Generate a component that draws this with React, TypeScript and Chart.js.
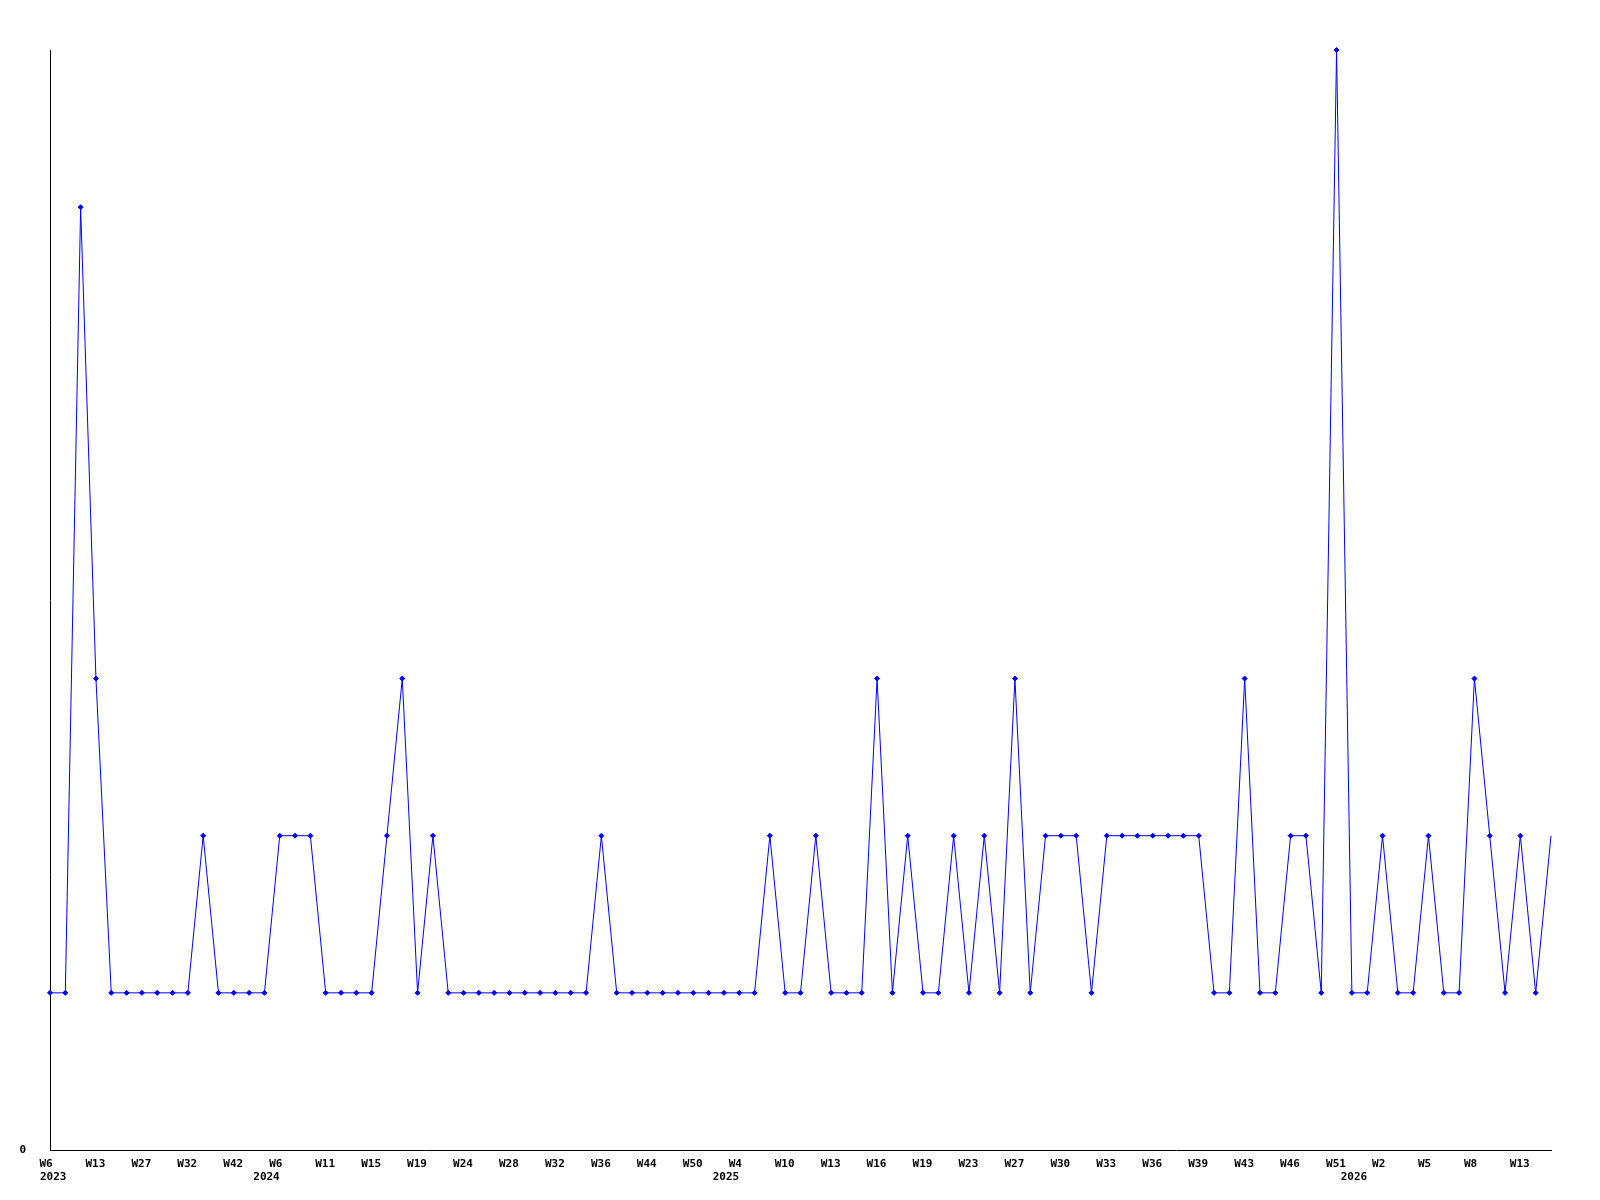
import React, { useEffect, useRef } from "react";
import { Chart, registerables } from "chart.js";

Chart.register(...registerables);

const weeks2023 = [6, 8, 11, 13, 17, 22, 27, 29, 31, 32, 35, 38, 42, 46, 50];
const weeks2024 = [6, 8, 9, 11, 12, 14, 15, 16, 17, 19, 20, 22, 24, 25, 26, 28, 29, 30, 32, 33, 34, 36, 39, 41, 44, 46, 48, 50, 51, 52];
const weeks2025 = [4, 6, 8, 10, 11, 12, 13, 14, 15, 16, 17, 18, 19, 21, 22, 23, 25, 26, 27, 28, 29, 30, 31, 32, 33, 34, 35, 36, 37, 38, 39, 41, 42, 43, 44, 45, 46, 47, 49, 51, 52];
const weeks2026 = [1, 2, 3, 4, 5, 6, 7, 8, 9, 11, 13, 14, 15];
const years = [2023, 2024, 2025, 2026];

const counts = [
  1, 1, 6, 3, 1, 1, 1, 1, 1, 1,
  2, 1, 1, 1, 1, 2, 2, 2, 1, 1,
  1, 1, 2, 3, 1, 2, 1, 1, 1, 1,
  1, 1, 1, 1, 1, 1, 2, 1, 1, 1,
  1, 1, 1, 1, 1, 1, 1, 2, 1, 1,
  2, 1, 1, 1, 3, 1, 2, 1, 1, 2,
  1, 2, 1, 3, 1, 2, 2, 2, 1, 2,
  2, 2, 2, 2, 2, 2, 1, 1, 3, 1,
  1, 2, 2, 1, 7, 1, 1, 2, 1, 1,
  2, 1, 1, 3, 2, 1, 2, 1, 2,
];

const yTickValues = [0];

type WeekEntry = { week: number; year: number };

function buildEntries(): WeekEntry[] {
  const out: WeekEntry[] = [];
  const groups = [weeks2023, weeks2024, weeks2025, weeks2026];
  groups.forEach((ws, gi) => {
    for (const w of ws) out.push({ week: w, year: years[gi] });
  });
  return out;
}

const FONT_FAMILY = "'DejaVu Sans Mono', monospace";
const FONT_SIZE = 11;
const LINE_HEIGHT = 13.75;

export default function App() {
  const canvasRef = useRef<HTMLCanvasElement | null>(null);

  useEffect(() => {
    const canvas = canvasRef.current;
    if (!canvas) return;
    const entries = buildEntries();
    const labels = entries.map((e) => "W" + e.week);
    const n = counts.length;
    const font = { family: FONT_FAMILY, size: FONT_SIZE, weight: "bold" as const, lineHeight: LINE_HEIGHT / FONT_SIZE };

    const yearPlugin = {
      id: "yearLabels",
      afterDraw(chart: any) {
        const xs = chart.scales.x;
        const items = xs.getLabelItems ? xs.getLabelItems() : [];
        if (!items.length) return;
        const it = items[0];
        const ty = it.options.translation[1];
        const baseline = it.options.textBaseline || "top";
        const yLine = ty + (it.textOffset || 0) + LINE_HEIGHT;
        const ctx = chart.ctx;
        ctx.save();
        ctx.font = `bold ${FONT_SIZE}px ${FONT_FAMILY}`;
        ctx.fillStyle = "#000000";
        ctx.textAlign = "left";
        ctx.textBaseline = baseline;
        let prev = -1;
        entries.forEach((e, i) => {
          if (e.year === prev) return;
          prev = e.year;
          const text = String(e.year);
          const x = xs.getPixelForValue(i);
          const w = ctx.measureText(text).width;
          const left = Math.max(x - w, xs.left - 10);
          ctx.fillText(text, left, yLine);
        });
        ctx.restore();
      },
    };

    const chart = new Chart(canvas, {
      type: "line",
      data: {
        labels,
        datasets: [
          {
            data: counts,
            borderColor: "#0000ff",
            backgroundColor: "#0000ff",
            borderWidth: 1,
            pointStyle: "rectRot",
            pointRadius: counts.map((_, i) => (i === n - 1 ? 0 : 2.5)),
            pointBorderWidth: 1,
            pointBorderColor: "#0000ff",
            pointBackgroundColor: "#0000ff",
            tension: 0,
            fill: false,
            clip: false as any,
          },
        ],
      },
      options: {
        animation: false,
        responsive: false,
        maintainAspectRatio: false,
        layout: { padding: { top: 50, right: 49, left: 0, bottom: 0 } },
        plugins: { legend: { display: false }, tooltip: { enabled: false } },
        scales: {
          x: {
            type: "category",
            offset: false,
            grid: { display: false, drawTicks: false },
            border: { display: true, color: "#000000", width: 1 },
            afterFit: (scale: any) => {
              scale.height = 50;
            },
            ticks: {
              autoSkip: false,
              maxRotation: 0,
              minRotation: 0,
              padding: 7,
              align: "start",
              labelOffset: -10.5,
              color: "#000000",
              font,
              callback: function (_v: any, i: number) {
                if (i % 3 !== 0) return "";
                return "W" + entries[i].week;
              },
            },
          },
          y: {
            min: 0,
            max: 7,
            grid: { display: false, drawTicks: false },
            border: { display: true, color: "#000000", width: 1 },
            afterFit: (scale: any) => {
              scale.width = 50;
            },
            afterBuildTicks: (scale: any) => {
              scale.ticks = yTickValues.map((v) => ({ value: v }));
            },
            ticks: {
              padding: 24,
              color: "#000000",
              font,
              callback: (v: any) => String(v),
            },
          },
        },
      },
      plugins: [yearPlugin],
    });
    return () => chart.destroy();
  }, []);

  return (
    <div style={{ position: "absolute", left: 0, top: 0, width: 1600, height: 1200, background: "#ffffff" }}>
      <canvas ref={canvasRef} width={1600} height={1200} style={{ width: 1600, height: 1200, display: "block" }} />
    </div>
  );
}
